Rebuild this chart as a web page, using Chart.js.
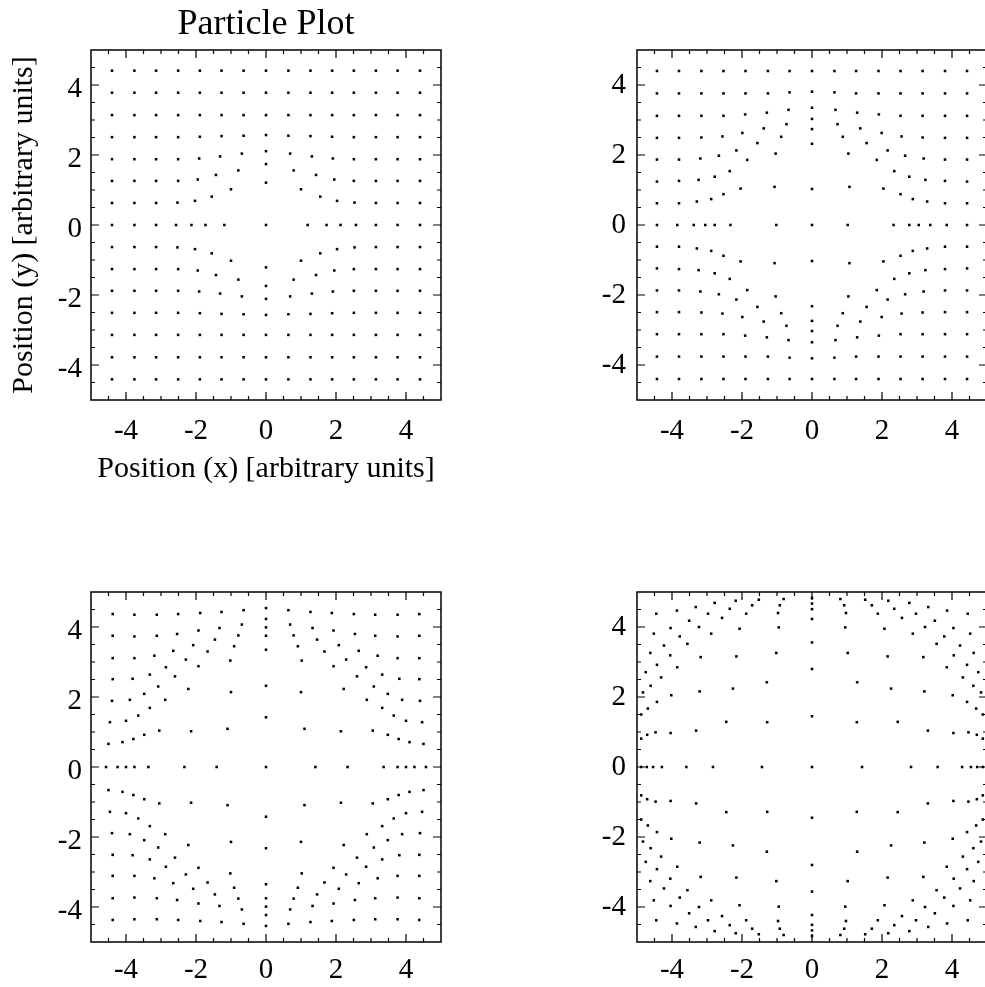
<!DOCTYPE html>
<html><head><meta charset="utf-8">
<script src="https://cdn.jsdelivr.net/npm/chart.js@4.4.0/dist/chart.umd.min.js"></script>
<style>
html,body{margin:0;padding:0;background:#fff;overflow:hidden;width:985px;height:987px;position:relative;}
canvas{position:absolute;}
</style></head><body>
<canvas id="c1" width="460" height="500" style="left:0px;top:0px"></canvas>
<canvas id="c2" width="440" height="500" style="left:560px;top:0px"></canvas>
<canvas id="c3" width="460" height="447" style="left:0px;top:540px"></canvas>
<canvas id="c4" width="440" height="447" style="left:560px;top:540px"></canvas>
<script>
// ---- text and ticks ----
const titleText = 'Particle Plot';
const xTitle = 'Position (x) [arbitrary units]';
const yTitle = 'Position (y) [arbitrary units]';
const tickValues = [-4, -2, 0, 2, 4];
const axisRange = [-5, 5];

// ---- panel 1 (top left) : particle positions, rows from top to bottom ----
const panel1X = [
-4.40,-3.76,-3.14,-2.51,-1.89,-1.27,-0.64,0,0.64,1.27,1.89,2.51,3.14,3.76,4.40,
-4.40,-3.76,-3.14,-2.51,-1.89,-1.27,-0.64,0,0.64,1.27,1.89,2.51,3.14,3.76,4.40,
-4.40,-3.76,-3.14,-2.51,-1.89,-1.27,-0.64,0,0.64,1.27,1.89,2.51,3.14,3.76,4.40,
-4.40,-3.76,-3.14,-2.51,-1.89,-1.27,-0.64,0,0.64,1.27,1.89,2.51,3.14,3.76,4.40,
-4.40,-3.76,-3.14,-2.51,-1.91,-1.31,-0.69,0,0.69,1.31,1.91,2.51,3.14,3.76,4.40,
-4.40,-3.76,-3.14,-2.51,-1.95,-1.43,-0.79,0,0.79,1.43,1.95,2.51,3.14,3.76,4.40,
-4.40,-3.76,-3.14,-2.53,-2.03,-1.55,-1.00,0,1.00,1.55,2.03,2.53,3.14,3.76,4.40,
-4.40,-3.76,-3.14,-2.57,-2.13,-1.73,-1.19,0,1.19,1.73,2.13,2.57,3.14,3.76,4.40,
-4.40,-3.76,-3.14,-2.53,-2.03,-1.55,-1.00,0,1.00,1.55,2.03,2.53,3.14,3.76,4.40,
-4.40,-3.76,-3.14,-2.51,-1.95,-1.43,-0.79,0,0.79,1.43,1.95,2.51,3.14,3.76,4.40,
-4.40,-3.76,-3.14,-2.51,-1.91,-1.31,-0.69,0,0.69,1.31,1.91,2.51,3.14,3.76,4.40,
-4.40,-3.76,-3.14,-2.51,-1.89,-1.27,-0.64,0,0.64,1.27,1.89,2.51,3.14,3.76,4.40,
-4.40,-3.76,-3.14,-2.51,-1.89,-1.27,-0.64,0,0.64,1.27,1.89,2.51,3.14,3.76,4.40,
-4.40,-3.76,-3.14,-2.51,-1.89,-1.27,-0.64,0,0.64,1.27,1.89,2.51,3.14,3.76,4.40,
-4.40,-3.76,-3.14,-2.51,-1.89,-1.27,-0.64,0,0.64,1.27,1.89,2.51,3.14,3.76,4.40
];
const panel1Y = [
4.41,4.41,4.41,4.41,4.41,4.41,4.41,4.41,4.41,4.41,4.41,4.41,4.41,4.41,4.41,
3.78,3.78,3.78,3.78,3.78,3.78,3.78,3.78,3.78,3.78,3.78,3.78,3.78,3.78,3.78,
3.14,3.14,3.14,3.14,3.14,3.14,3.14,3.14,3.14,3.14,3.14,3.14,3.14,3.14,3.14,
2.51,2.51,2.51,2.51,2.52,2.54,2.55,2.57,2.55,2.54,2.52,2.51,2.51,2.51,2.51,
1.88,1.88,1.88,1.88,1.90,1.96,2.04,2.11,2.04,1.96,1.90,1.88,1.88,1.88,1.88,
1.26,1.26,1.26,1.26,1.30,1.43,1.56,1.74,1.56,1.43,1.30,1.26,1.26,1.26,1.26,
0.63,0.63,0.63,0.64,0.69,0.81,1.02,1.21,1.02,0.81,0.69,0.64,0.63,0.63,0.63,
0,0,0,0,0,0,0,0,0,0,0,0,0,0,0,
-0.63,-0.63,-0.63,-0.64,-0.69,-0.81,-1.02,-1.21,-1.02,-0.81,-0.69,-0.64,-0.63,-0.63,-0.63,
-1.26,-1.26,-1.26,-1.26,-1.30,-1.43,-1.56,-1.74,-1.56,-1.43,-1.30,-1.26,-1.26,-1.26,-1.26,
-1.88,-1.88,-1.88,-1.88,-1.90,-1.96,-2.04,-2.11,-2.04,-1.96,-1.90,-1.88,-1.88,-1.88,-1.88,
-2.51,-2.51,-2.51,-2.51,-2.52,-2.54,-2.55,-2.57,-2.55,-2.54,-2.52,-2.51,-2.51,-2.51,-2.51,
-3.14,-3.14,-3.14,-3.14,-3.14,-3.14,-3.14,-3.14,-3.14,-3.14,-3.14,-3.14,-3.14,-3.14,-3.14,
-3.78,-3.78,-3.78,-3.78,-3.78,-3.78,-3.78,-3.78,-3.78,-3.78,-3.78,-3.78,-3.78,-3.78,-3.78,
-4.41,-4.41,-4.41,-4.41,-4.41,-4.41,-4.41,-4.41,-4.41,-4.41,-4.41,-4.41,-4.41,-4.41,-4.41
];

// ---- panel 2 (top right) ----
const panel2X = [
-4.43,-3.80,-3.16,-2.53,-1.90,-1.26,-0.64,0,0.64,1.26,1.90,2.53,3.16,3.80,4.43,
-4.43,-3.80,-3.16,-2.53,-1.90,-1.26,-0.64,0,0.64,1.26,1.90,2.53,3.16,3.80,4.43,
-4.43,-3.80,-3.16,-2.53,-1.91,-1.29,-0.67,0,0.67,1.29,1.91,2.53,3.16,3.80,4.43,
-4.43,-3.80,-3.16,-2.56,-1.99,-1.38,-0.73,0,0.73,1.38,1.99,2.56,3.16,3.80,4.43,
-4.43,-3.80,-3.19,-2.66,-2.16,-1.56,-0.88,0,0.88,1.56,2.16,2.66,3.19,3.80,4.43,
-4.43,-3.80,-3.24,-2.78,-2.35,-1.85,-1.04,0,1.04,1.85,2.35,2.78,3.24,3.80,4.43,
-4.43,-3.80,-3.29,-2.88,-2.53,-2.04,-1.07,0,1.07,2.04,2.53,2.88,3.29,3.80,4.43,
-4.43,-3.85,-3.38,-3.05,-2.78,-2.33,-1.02,0,1.02,2.33,2.78,3.05,3.38,3.85,4.43,
-4.43,-3.80,-3.29,-2.88,-2.53,-2.04,-1.07,0,1.07,2.04,2.53,2.88,3.29,3.80,4.43,
-4.43,-3.80,-3.24,-2.78,-2.35,-1.85,-1.04,0,1.04,1.85,2.35,2.78,3.24,3.80,4.43,
-4.43,-3.80,-3.19,-2.66,-2.16,-1.56,-0.88,0,0.88,1.56,2.16,2.66,3.19,3.80,4.43,
-4.43,-3.80,-3.16,-2.56,-1.99,-1.38,-0.73,0,0.73,1.38,1.99,2.56,3.16,3.80,4.43,
-4.43,-3.80,-3.16,-2.53,-1.91,-1.29,-0.67,0,0.67,1.29,1.91,2.53,3.16,3.80,4.43,
-4.43,-3.80,-3.16,-2.53,-1.90,-1.26,-0.64,0,0.64,1.26,1.90,2.53,3.16,3.80,4.43,
-4.43,-3.80,-3.16,-2.53,-1.90,-1.26,-0.64,0,0.64,1.26,1.90,2.53,3.16,3.80,4.43
];
const panel2Y = [
4.40,4.40,4.40,4.40,4.40,4.40,4.40,4.40,4.40,4.40,4.40,4.40,4.40,4.40,4.40,
3.76,3.76,3.76,3.76,3.76,3.76,3.79,3.81,3.79,3.76,3.76,3.76,3.76,3.76,3.76,
3.12,3.12,3.12,3.12,3.16,3.21,3.29,3.35,3.29,3.21,3.16,3.12,3.12,3.12,3.12,
2.49,2.49,2.50,2.53,2.63,2.76,2.88,3.03,2.88,2.76,2.63,2.53,2.50,2.49,2.49,
1.87,1.87,1.90,1.98,2.13,2.34,2.52,2.74,2.52,2.34,2.13,1.98,1.90,1.87,1.87,
1.24,1.26,1.29,1.38,1.54,1.86,2.04,2.32,2.04,1.86,1.54,1.38,1.29,1.26,1.24,
0.62,0.62,0.67,0.74,0.88,1.04,1.09,1.03,1.09,1.04,0.88,0.74,0.67,0.62,0.62,
0,0,0,0,0,0,0,0,0,0,0,0,0,0,0,
-0.62,-0.62,-0.67,-0.74,-0.88,-1.04,-1.09,-1.03,-1.09,-1.04,-0.88,-0.74,-0.67,-0.62,-0.62,
-1.24,-1.26,-1.29,-1.38,-1.54,-1.86,-2.04,-2.32,-2.04,-1.86,-1.54,-1.38,-1.29,-1.26,-1.24,
-1.87,-1.87,-1.90,-1.98,-2.13,-2.34,-2.52,-2.74,-2.52,-2.34,-2.13,-1.98,-1.90,-1.87,-1.87,
-2.49,-2.49,-2.50,-2.53,-2.63,-2.76,-2.88,-3.03,-2.88,-2.76,-2.63,-2.53,-2.50,-2.49,-2.49,
-3.12,-3.12,-3.12,-3.12,-3.16,-3.21,-3.29,-3.35,-3.29,-3.21,-3.16,-3.12,-3.12,-3.12,-3.12,
-3.76,-3.76,-3.76,-3.76,-3.76,-3.76,-3.79,-3.81,-3.79,-3.76,-3.76,-3.76,-3.76,-3.76,-3.76,
-4.40,-4.40,-4.40,-4.40,-4.40,-4.40,-4.40,-4.40,-4.40,-4.40,-4.40,-4.40,-4.40,-4.40,-4.40
];

// ---- panel 3 (bottom left) ----
const panel3X = [
-4.38,-3.76,-3.12,-2.51,-1.88,-1.27,-0.64,0,0.64,1.27,1.88,2.51,3.12,3.76,4.38,
-4.38,-3.76,-3.12,-2.54,-1.93,-1.33,-0.69,0,0.69,1.33,1.93,2.54,3.12,3.76,4.38,
-4.38,-3.76,-3.19,-2.65,-2.08,-1.46,-0.79,0,0.79,1.46,2.08,2.65,3.19,3.76,4.38,
-4.38,-3.81,-3.32,-2.86,-2.29,-1.67,-0.91,0,0.91,1.67,2.29,2.86,3.32,3.81,4.38,
-4.40,-3.89,-3.48,-3.08,-2.60,-1.93,-1.02,0,1.02,1.93,2.60,3.08,3.48,3.89,4.40,
-4.46,-4.00,-3.65,-3.32,-2.88,-2.22,-1.00,0,1.00,2.22,2.88,3.32,3.65,4.00,4.46,
-4.50,-4.10,-3.79,-3.48,-3.05,-2.14,-1.10,0,1.10,2.14,3.05,3.48,3.79,4.10,4.50,
-4.57,-4.24,-4.00,-3.76,-3.36,-2.33,-1.41,0,1.41,2.33,3.36,3.76,4.00,4.24,4.57,
-4.50,-4.10,-3.79,-3.48,-3.05,-2.14,-1.10,0,1.10,2.14,3.05,3.48,3.79,4.10,4.50,
-4.46,-4.00,-3.65,-3.32,-2.88,-2.22,-1.00,0,1.00,2.22,2.88,3.32,3.65,4.00,4.46,
-4.40,-3.89,-3.48,-3.08,-2.60,-1.93,-1.02,0,1.02,1.93,2.60,3.08,3.48,3.89,4.40,
-4.38,-3.81,-3.32,-2.86,-2.29,-1.67,-0.91,0,0.91,1.67,2.29,2.86,3.32,3.81,4.38,
-4.38,-3.76,-3.19,-2.65,-2.08,-1.46,-0.79,0,0.79,1.46,2.08,2.65,3.19,3.76,4.38,
-4.38,-3.76,-3.12,-2.54,-1.93,-1.33,-0.69,0,0.69,1.33,1.93,2.54,3.12,3.76,4.38,
-4.38,-3.76,-3.12,-2.51,-1.88,-1.27,-0.64,0,0.64,1.27,1.88,2.51,3.12,3.76,4.38
];
const panel3Y = [
4.37,4.35,4.35,4.37,4.40,4.43,4.48,4.54,4.48,4.43,4.40,4.37,4.35,4.35,4.37,
3.75,3.73,3.75,3.80,3.90,3.97,4.07,4.23,4.07,3.97,3.90,3.80,3.75,3.73,3.75,
3.11,3.11,3.18,3.32,3.48,3.64,3.76,3.99,3.76,3.64,3.48,3.32,3.18,3.11,3.11,
2.51,2.52,2.64,2.85,3.07,3.30,3.45,3.75,3.45,3.30,3.07,2.85,2.64,2.52,2.51,
1.89,1.92,2.09,2.30,2.59,2.88,3.04,3.35,3.04,2.88,2.59,2.30,2.09,1.92,1.89,
1.28,1.32,1.47,1.69,1.92,2.23,2.14,2.32,2.14,2.23,1.92,1.69,1.47,1.32,1.28,
0.66,0.71,0.80,0.92,1.04,1.02,1.09,1.42,1.09,1.02,1.04,0.92,0.80,0.71,0.66,
0,0,0,0,0,0,0,0,0,0,0,0,0,0,0,
-0.66,-0.71,-0.80,-0.92,-1.04,-1.02,-1.09,-1.42,-1.09,-1.02,-1.04,-0.92,-0.80,-0.71,-0.66,
-1.28,-1.32,-1.47,-1.69,-1.92,-2.23,-2.14,-2.32,-2.14,-2.23,-1.92,-1.69,-1.47,-1.32,-1.28,
-1.89,-1.92,-2.09,-2.30,-2.59,-2.88,-3.04,-3.35,-3.04,-2.88,-2.59,-2.30,-2.09,-1.92,-1.89,
-2.51,-2.52,-2.64,-2.85,-3.07,-3.30,-3.45,-3.75,-3.45,-3.30,-3.07,-2.85,-2.64,-2.52,-2.51,
-3.11,-3.11,-3.18,-3.32,-3.48,-3.64,-3.76,-3.99,-3.76,-3.64,-3.48,-3.32,-3.18,-3.11,-3.11,
-3.75,-3.73,-3.75,-3.80,-3.90,-3.97,-4.07,-4.23,-4.07,-3.97,-3.90,-3.80,-3.75,-3.73,-3.75,
-4.37,-4.35,-4.35,-4.37,-4.40,-4.43,-4.48,-4.54,-4.48,-4.43,-4.40,-4.37,-4.35,-4.35,-4.37
];

// ---- panel 4 (bottom right) ----
const panel4X = [
-4.45,-3.86,-3.32,-2.78,-2.18,-1.52,-0.81,0,0.81,1.52,2.18,2.78,3.32,3.86,4.45,
-4.52,-4.04,-3.51,-2.97,-2.35,-1.71,-0.92,0,0.92,1.71,2.35,2.97,3.51,4.04,4.52,
-4.62,-4.23,-3.78,-3.23,-2.57,-1.88,-0.97,0,0.97,1.88,2.57,3.23,3.78,4.23,4.62,
-4.75,-4.43,-4.05,-3.56,-2.88,-2.07,-0.95,0,0.95,2.07,2.88,3.56,4.05,4.43,4.75,
-4.83,-4.61,-4.31,-3.85,-3.18,-2.16,-1.02,0,1.02,2.16,3.18,3.85,4.31,4.61,4.83,
-4.88,-4.69,-4.43,-4.02,-3.21,-2.26,-1.29,0,1.29,2.26,3.21,4.02,4.43,4.69,4.88,
-4.88,-4.71,-4.47,-4.04,-3.31,-2.45,-1.28,0,1.28,2.45,3.31,4.04,4.47,4.71,4.88,
-4.88,-4.72,-4.54,-4.29,-3.59,-2.83,-1.43,0,1.43,2.83,3.59,4.29,4.54,4.72,4.88,
-4.88,-4.71,-4.47,-4.04,-3.31,-2.45,-1.28,0,1.28,2.45,3.31,4.04,4.47,4.71,4.88,
-4.88,-4.69,-4.43,-4.02,-3.21,-2.26,-1.29,0,1.29,2.26,3.21,4.02,4.43,4.69,4.88,
-4.83,-4.61,-4.31,-3.85,-3.18,-2.16,-1.02,0,1.02,2.16,3.18,3.85,4.31,4.61,4.83,
-4.75,-4.43,-4.05,-3.56,-2.88,-2.07,-0.95,0,0.95,2.07,2.88,3.56,4.05,4.43,4.75,
-4.62,-4.23,-3.78,-3.23,-2.57,-1.88,-0.97,0,0.97,1.88,2.57,3.23,3.78,4.23,4.62,
-4.52,-4.04,-3.51,-2.97,-2.35,-1.71,-0.92,0,0.92,1.71,2.35,2.97,3.51,4.04,4.52,
-4.45,-3.86,-3.32,-2.78,-2.18,-1.52,-0.81,0,0.81,1.52,2.18,2.78,3.32,3.86,4.45
];
const panel4Y = [
4.38,4.47,4.57,4.69,4.75,4.78,4.80,4.83,4.80,4.78,4.75,4.69,4.57,4.47,4.38,
3.81,3.97,4.18,4.38,4.52,4.62,4.62,4.67,4.62,4.62,4.52,4.38,4.18,3.97,3.81,
3.26,3.47,3.73,4.00,4.26,4.38,4.40,4.51,4.40,4.38,4.26,4.00,3.73,3.47,3.26,
2.71,2.92,3.19,3.52,3.81,3.95,3.99,4.23,3.99,3.95,3.81,3.52,3.19,2.92,2.71,
2.13,2.32,2.56,2.85,3.14,3.16,3.26,3.56,3.26,3.16,3.14,2.85,2.56,2.32,2.13,
1.50,1.67,1.86,2.05,2.16,2.24,2.42,2.80,2.42,2.24,2.16,2.05,1.86,1.67,1.50,
0.81,0.92,0.99,0.97,1.04,1.29,1.28,1.45,1.28,1.29,1.04,0.97,0.99,0.92,0.81,
0,0,0,0,0,0,0,0,0,0,0,0,0,0,0,
-0.81,-0.92,-0.99,-0.97,-1.04,-1.29,-1.28,-1.45,-1.28,-1.29,-1.04,-0.97,-0.99,-0.92,-0.81,
-1.50,-1.67,-1.86,-2.05,-2.16,-2.24,-2.42,-2.80,-2.42,-2.24,-2.16,-2.05,-1.86,-1.67,-1.50,
-2.13,-2.32,-2.56,-2.85,-3.14,-3.16,-3.26,-3.56,-3.26,-3.16,-3.14,-2.85,-2.56,-2.32,-2.13,
-2.71,-2.92,-3.19,-3.52,-3.81,-3.95,-3.99,-4.23,-3.99,-3.95,-3.81,-3.52,-3.19,-2.92,-2.71,
-3.26,-3.47,-3.73,-4.00,-4.26,-4.38,-4.40,-4.51,-4.40,-4.38,-4.26,-4.00,-3.73,-3.47,-3.26,
-3.81,-3.97,-4.18,-4.38,-4.52,-4.62,-4.62,-4.67,-4.62,-4.62,-4.52,-4.38,-4.18,-3.97,-3.81,
-4.38,-4.47,-4.57,-4.69,-4.75,-4.78,-4.80,-4.83,-4.80,-4.78,-4.75,-4.69,-4.57,-4.47,-4.38
];

// ---- drawing ----
const FONT = "'Liberation Serif', 'Times New Roman', Times, serif";
Chart.defaults.font.family = FONT;
Chart.defaults.color = '#000';

const framePlugin = {
  id: 'frameTicks',
  afterDatasetsDraw(chart) {
    const ctx = chart.ctx, a = chart.chartArea;
    const xs = chart.scales.x, ys = chart.scales.y;
    ctx.save();
    ctx.strokeStyle = '#000';
    ctx.lineWidth = 1.5;
    ctx.strokeRect(a.left, a.top, a.right - a.left, a.bottom - a.top);
    ctx.lineWidth = 1.2;
    ctx.beginPath();
    const span = axisRange[1] - axisRange[0];
    for (let i = 1; i < span * 2; i++) {
      const v = axisRange[0] + i * 0.5;
      const major = tickValues.includes(v);
      const len = major ? 8 : 4;
      const px = xs.getPixelForValue(v), py = ys.getPixelForValue(v);
      ctx.moveTo(px, a.bottom); ctx.lineTo(px, a.bottom - len);
      ctx.moveTo(px, a.top); ctx.lineTo(px, a.top + len);
      ctx.moveTo(a.left, py); ctx.lineTo(a.left + len, py);
      ctx.moveTo(a.right, py); ctx.lineTo(a.right - len, py);
    }
    ctx.stroke();
    ctx.restore();
  }
};

function makePanel(id, xVals, yVals, cfg) {
  const pts = xVals.map((v, i) => ({ x: v, y: yVals[i] }));
  new Chart(document.getElementById(id), {
    type: 'scatter',
    data: { datasets: [{
      data: pts, pointStyle: 'rect', pointRadius: 1.8, pointHoverRadius: 1.8,
      backgroundColor: '#000', borderColor: '#000', borderWidth: 0
    }] },
    options: {
      responsive: false, animation: false, devicePixelRatio: 1,
      events: [],
      layout: { padding: { top: cfg.padTop, right: cfg.padRight, left: 0, bottom: 0 } },
      plugins: {
        legend: { display: false }, tooltip: { enabled: false },
        title: cfg.title ? {
          display: true, text: titleText, fullSize: false, color: '#000',
          font: { size: 36, weight: 'normal', family: FONT, lineHeight: 1.2 },
          padding: { top: 3, bottom: 3.8 }
        } : { display: false }
      },
      scales: {
        x: {
          type: 'linear', min: axisRange[0], max: axisRange[1],
          afterBuildTicks: s => { s.ticks = tickValues.map(v => ({ value: v })); },
          afterFit: s => { s.height = cfg.xh; },
          grid: { display: false, drawTicks: false, tickLength: 0 },
          border: { display: false },
          ticks: { padding: cfg.xpad, color: '#000', maxRotation: 0, autoSkip: false,
                   font: { size: 29, family: FONT, lineHeight: 1.2 } },
          title: cfg.xtitle ? { display: true, text: xTitle, color: '#000',
                   font: { size: 30, family: FONT, lineHeight: 1.2 }, padding: { top: 0, bottom: 12.6 } }
                 : { display: false }
        },
        y: {
          type: 'linear', min: axisRange[0], max: axisRange[1],
          afterBuildTicks: s => { s.ticks = tickValues.map(v => ({ value: v })); },
          afterFit: s => { s.width = cfg.yw; },
          grid: { display: false, drawTicks: false, tickLength: 0 },
          border: { display: false },
          ticks: { padding: cfg.ypad, labelOffset: cfg.yoff, color: '#000', autoSkip: false,
                   font: { size: 29, family: FONT, lineHeight: 1.2 } },
          title: cfg.ytitle ? { display: true, text: yTitle, color: '#000',
                   font: { size: 30, family: FONT, lineHeight: 1.2 }, padding: { top: 6.5, bottom: 0 } }
                 : { display: false }
        }
      }
    },
    plugins: [framePlugin]
  });
}

makePanel('c1', panel1X, panel1Y, { title: true, xtitle: true, ytitle: true, padTop: 0, padRight: 19, xh: 100, yw: 91, xpad: 13.6, ypad: 9, yoff: 4 });
makePanel('c2', panel2X, panel2Y, { padTop: 50, padRight: 13, xh: 100, yw: 77, xpad: 13.6, ypad: 11, yoff: 0 });
makePanel('c3', panel3X, panel3Y, { padTop: 52, padRight: 19, xh: 45, yw: 91, xpad: 10.6, ypad: 9, yoff: 4 });
makePanel('c4', panel4X, panel4Y, { padTop: 52, padRight: 13, xh: 45, yw: 77, xpad: 10.6, ypad: 11, yoff: 0 });
</script>
</body></html>
